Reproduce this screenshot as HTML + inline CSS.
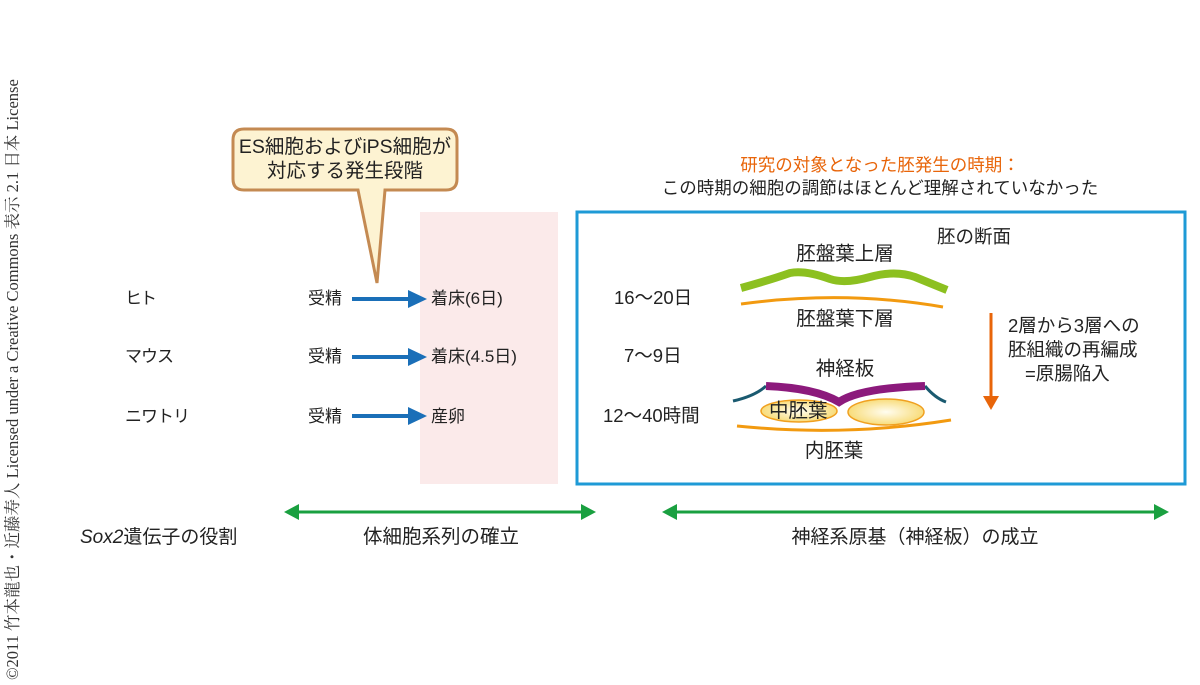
<!DOCTYPE html>
<html><head><meta charset="utf-8"><style>
body{margin:0;width:1200px;height:685px;background:#fff;position:relative;overflow:hidden;font-family:"Liberation Sans","Noto Sans CJK JP",sans-serif;color:#222}
.t{position:absolute;font-size:17px;white-space:nowrap;line-height:1}
.c{transform:translateX(-50%)}
</style></head><body>
<svg width="1200" height="685" style="position:absolute;left:0;top:0">
<defs>
<radialGradient id="g"><stop offset="0" stop-color="#fffdf0"/><stop offset="1" stop-color="#f8dc7a"/></radialGradient>
</defs>
<rect x="420" y="212" width="138" height="272" fill="#fbeaea"/>
<rect x="577" y="212" width="608" height="272" fill="none" stroke="#1e9ad6" stroke-width="3"/>
<path d="M244 129 H446 Q457 129 457 140 V179 Q457 190 446 190 H385 L377 283 L358 190 H244 Q233 190 233 179 V140 Q233 129 244 129 Z" fill="#fdf3d2" stroke="#c48a52" stroke-width="3"/>
<g stroke="#1a6fb8" stroke-width="4" fill="#1a6fb8">
<line x1="352" y1="299" x2="412" y2="299"/><polygon points="408,290 427,299 408,308" stroke="none"/>
<line x1="352" y1="357" x2="412" y2="357"/><polygon points="408,348 427,357 408,366" stroke="none"/>
<line x1="352" y1="416" x2="412" y2="416"/><polygon points="408,407 427,416 408,425" stroke="none"/>
</g>
<g stroke="#1aa040" stroke-width="3" fill="#1aa040">
<line x1="296" y1="512" x2="584" y2="512"/><polygon points="284,512 299,504 299,520" stroke="none"/><polygon points="596,512 581,504 581,520" stroke="none"/>
<line x1="674" y1="512" x2="1157" y2="512"/><polygon points="662,512 677,504 677,520" stroke="none"/><polygon points="1169,512 1154,504 1154,520" stroke="none"/>
</g>
<path d="M741 288 Q770 280 790 273 Q805 270 830 279 Q845 284 870 277 Q895 270 915 277 L947 290" fill="none" stroke="#8cc020" stroke-width="8"/>
<path d="M741 304 Q845 290 943 307" fill="none" stroke="#f29a10" stroke-width="3"/>
<path d="M733 401 Q755 396 766 386" fill="none" stroke="#1a5a70" stroke-width="3"/>
<path d="M925 386 Q935 398 946 402" fill="none" stroke="#1a5a70" stroke-width="3"/>
<path d="M766 386 Q815 388 839 402 Q860 388 925 386" fill="none" stroke="#8c1a7c" stroke-width="8"/>
<ellipse cx="799" cy="411" rx="38" ry="11" fill="url(#g)" stroke="#f0a020" stroke-width="1.5"/>
<ellipse cx="886" cy="412" rx="38" ry="13" fill="url(#g)" stroke="#f0a020" stroke-width="1.5"/>
<path d="M737 426 Q845 437 951 420" fill="none" stroke="#f29a10" stroke-width="3"/>
<line x1="991" y1="313" x2="991" y2="398" stroke="#e8650a" stroke-width="3"/>
<polygon points="983,396 999,396 991,410" fill="#e8650a"/>
</svg>
<div class="t" style="left:5px;top:680px;transform:rotate(-90deg);transform-origin:0 0;font-family:'Liberation Serif','Noto Serif CJK SC',serif;font-size:16.5px;color:#333;width:670px">©2011 竹本龍也・近藤寿人 Licensed under a Creative Commons 表示 2.1 日本 License</div>
<div class="t c" style="left:345px;top:135px;font-size:19.5px;text-align:center;line-height:24px">ES細胞およびiPS細胞が<br>対応する発生段階</div>
<div class="t c" style="left:880px;top:157px;font-size:17.5px;color:#e8650a">研究の対象となった胚発生の時期：</div>
<div class="t c" style="left:880px;top:180px;font-size:17.5px">この時期の細胞の調節はほとんど理解されていなかった</div>
<div class="t" style="left:125px;top:290px;letter-spacing:-2px">ヒト</div>
<div class="t" style="left:125px;top:348px;letter-spacing:-1px">マウス</div>
<div class="t" style="left:125px;top:408px;letter-spacing:-1px">ニワトリ</div>
<div class="t" style="left:308px;top:290px">受精</div>
<div class="t" style="left:308px;top:348px">受精</div>
<div class="t" style="left:308px;top:408px">受精</div>
<div class="t" style="left:431px;top:290px">着床(6日)</div>
<div class="t" style="left:431px;top:348px">着床(4.5日)</div>
<div class="t" style="left:431px;top:408px">産卵</div>
<div class="t" style="left:614px;top:289px;font-size:18.5px">16〜20日</div>
<div class="t" style="left:624px;top:347px;font-size:18.5px">7〜9日</div>
<div class="t" style="left:603px;top:407px;font-size:18.5px">12〜40時間</div>
<div class="t" style="left:937px;top:228px;font-size:18.5px">胚の断面</div>
<div class="t c" style="left:845px;top:245px;font-size:19.5px">胚盤葉上層</div>
<div class="t c" style="left:845px;top:310px;font-size:19.5px">胚盤葉下層</div>
<div class="t c" style="left:845px;top:360px;font-size:19.5px">神経板</div>
<div class="t" style="left:769px;top:402px;font-size:19.5px">中胚葉</div>
<div class="t c" style="left:834px;top:442px;font-size:19.5px">内胚葉</div>
<div class="t" style="left:1008px;top:317px;font-size:18.5px">2層から3層への</div>
<div class="t" style="left:1008px;top:341px;font-size:18.5px">胚組織の再編成</div>
<div class="t" style="left:1025px;top:365px;font-size:18.5px">=原腸陥入</div>
<div class="t" style="left:80px;top:528px;font-size:19px"><i>Sox2</i>遺伝子の役割</div>
<div class="t c" style="left:441px;top:528px;font-size:19.5px">体細胞系列の確立</div>
<div class="t c" style="left:915px;top:528px;font-size:19px">神経系原基（神経板）の成立</div>
</body></html>
